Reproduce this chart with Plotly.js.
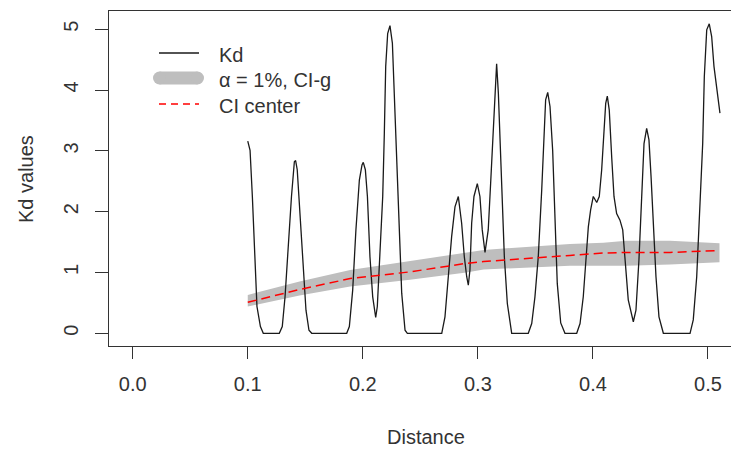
<!DOCTYPE html>
<html><head><meta charset="utf-8">
<script src="https://cdn.plot.ly/plotly-3.0.1.min.js"></script>
<style>html,body{margin:0;padding:0;background:#fff}</style>
</head><body><div id="chart" style="width:732px;height:449px"></div>
<script>
const kdDistance = [0.100,0.102,0.104,0.106,0.108,0.111,0.1135,0.1274,0.130,0.1324,0.1353,0.138,0.1405,0.1416,0.143,0.1454,0.1477,0.1506,0.1532,0.1556,
0.186,0.1883,0.1912,0.194,0.197,0.1993,0.2004,0.2022,0.204,0.2062,0.2086,0.2112,0.2126,0.215,0.2173,0.2187,0.2199,0.2216,0.223,0.2236,0.2257,0.2274,0.2295,0.2315,0.2338,0.2367,0.2387,
0.2686,0.2714,0.2743,0.2772,0.2801,0.283,0.2859,0.2882,0.2903,0.2917,0.2931,0.2946,0.2966,0.2995,0.3018,0.3038,0.3062,0.309,0.3111,0.3134,0.3149,0.3163,0.3178,0.3192,0.3212,0.323,0.3256,0.3294,
0.3438,0.3468,0.3496,0.3525,0.3555,0.3575,0.3589,0.3607,0.3627,0.365,0.367,0.369,0.372,0.3757,
0.3859,0.3888,0.3916,0.394,0.396,0.398,0.4003,0.4033,0.4055,0.4076,0.4096,0.4111,0.4125,0.4142,0.4163,0.4183,0.4206,0.4235,0.4259,0.4279,0.4307,0.4351,0.4374,0.44,0.4424,0.4444,0.4467,0.4487,0.4505,0.4525,0.4548,0.4574,0.4612,
0.4844,0.4872,0.4902,0.4931,0.4954,0.4968,0.4989,0.5011,0.5032,0.5052,0.5075,0.5104];
const kdValues = [3.16,3.01,2.25,1.26,0.44,0.11,0,0,0.11,0.60,1.53,2.25,2.82,2.84,2.69,1.97,1.15,0.38,0.05,0,
0,0.11,0.71,1.70,2.52,2.77,2.81,2.69,2.25,1.26,0.60,0.26,0.44,1.26,2.25,3.29,4.39,4.93,5.05,5.06,4.77,3.84,2.74,1.64,0.66,0.05,0,
0,0.27,0.93,1.59,2.08,2.25,1.81,1.26,0.93,0.79,1.04,1.81,2.25,2.46,2.25,1.70,1.33,1.70,2.47,3.29,3.95,4.43,3.95,3.13,2.19,1.26,0.49,0,
0,0.16,0.60,1.26,2.36,3.29,3.84,3.96,3.73,3.01,1.92,0.82,0.17,0,
0,0.16,0.60,1.15,1.75,2.03,2.25,2.15,2.25,2.69,3.40,3.78,3.90,3.67,2.90,2.25,1.97,1.86,1.70,1.15,0.55,0.19,0.38,1.21,2.30,3.12,3.37,3.18,2.58,1.75,0.93,0.27,0,
0,0.22,0.93,2.03,3.12,4.22,4.99,5.09,4.88,4.39,4.00,3.62];

const ciDistance = [0.100,0.145,0.189,0.241,0.290,0.305,0.380,0.409,0.429,0.467,0.510];
const ciLower    = [0.44,0.62,0.77,0.88,1.00,1.05,1.11,1.11,1.11,1.13,1.17];
const ciUpper    = [0.63,0.85,1.04,1.19,1.32,1.37,1.47,1.49,1.52,1.52,1.48];
const ciCenter   = [0.51,0.72,0.90,1.01,1.15,1.18,1.28,1.32,1.33,1.33,1.36];

const xTickVals = [0,0.1,0.2,0.3,0.4,0.5];
const xTickText = ["0.0","0.1","0.2","0.3","0.4","0.5"];
const yTickVals = [0,1,2,3,4,5];
const yTickText = ["0","1","2","3","4","5"];
const legendLabels = ["Kd","α = 1%, CI-g","CI center"];
const xTitle = "Distance";
const yTitle = "Kd values";

const FONT = "Liberation Sans, Arial, Helvetica, sans-serif";
const TXT = "#333333";
const W = 732, H = 449;
const M = {l:109, r:1, t:11, b:103};
const pw = W - M.l - M.r, ph = H - M.t - M.b;
const px = v => (v - M.l) / pw;
const py = v => (H - M.b - v) / ph;

const traces = [
  {x: ciDistance, y: ciLower, type:'scatter', mode:'lines', line:{width:0, color:'#bebebe'}, hoverinfo:'skip', showlegend:false},
  {x: ciDistance, y: ciUpper, type:'scatter', mode:'lines', fill:'tonexty', fillcolor:'#bebebe', line:{width:0, color:'#bebebe'}, showlegend:false},
  {x: kdDistance, y: kdValues, type:'scatter', mode:'lines', line:{width:1.3, color:'#1a1a1a'}, showlegend:false},
  {x: ciDistance, y: ciCenter, type:'scatter', mode:'lines', line:{width:1.5, color:'#ff0000', dash:'9px,5px'}, showlegend:false}
];

const shapes = [
  {type:'line', xref:'paper', yref:'paper', x0:px(159), x1:px(199), y0:py(53), y1:py(53), line:{color:'#1a1a1a', width:1.3}},
  {type:'line', xref:'paper', yref:'paper', x0:px(159.5), x1:px(197.5), y0:py(78), y1:py(78), line:{color:'#bebebe', width:13}},
  {type:'circle', xref:'paper', yref:'paper', x0:px(153), x1:px(166), y0:py(84.5), y1:py(71.5), fillcolor:'#bebebe', line:{width:0}},
  {type:'circle', xref:'paper', yref:'paper', x0:px(191), x1:px(204), y0:py(84.5), y1:py(71.5), fillcolor:'#bebebe', line:{width:0}},
  {type:'line', xref:'paper', yref:'paper', x0:px(159), x1:px(199), y0:py(104), y1:py(104), line:{color:'#ff0000', width:1.5, dash:'7px,5px'}}
];

const legendY = [55, 80, 106];
const annotations = legendLabels.map((t,i) => ({
  text:t, xref:'paper', yref:'paper', x:px(217), y:py(legendY[i]), xanchor:'left', yanchor:'middle',
  showarrow:false, font:{family:FONT, size:20, color:TXT}
}));
annotations.push({text:xTitle, xref:'paper', yref:'paper', x:px(426), y:py(437), xanchor:'center', yanchor:'middle', showarrow:false, font:{family:FONT, size:20, color:TXT}});
annotations.push({text:yTitle, xref:'paper', yref:'paper', x:px(26), y:py(179), xanchor:'center', yanchor:'middle', textangle:-90, showarrow:false, font:{family:FONT, size:20, color:TXT}});

const layout = {
  width:W, height:H, margin:M, paper_bgcolor:'#fff', plot_bgcolor:'#fff',
  showlegend:false,
  font:{family:FONT, size:20, color:TXT},
  xaxis:{range:[-0.0206, 0.52], tickvals:xTickVals, ticktext:xTickText, ticks:'outside', ticklen:12, tickwidth:1, tickcolor:'#333',
         ticklabelstandoff:8,
         showline:true, linecolor:'#333', linewidth:1, mirror:true, showgrid:false, zeroline:false, tickfont:{family:FONT, size:20, color:TXT}},
  yaxis:{range:[-0.209, 5.30], tickvals:yTickVals, ticktext:yTickText, tickangle:-90, ticks:'outside', ticklen:13, tickwidth:1, tickcolor:'#333',
         ticklabelstandoff:9,
         showline:true, linecolor:'#333', linewidth:1, mirror:false, showgrid:false, zeroline:false, tickfont:{family:FONT, size:20, color:TXT}},
  shapes:shapes, annotations:annotations
};

Plotly.newPlot('chart', traces, layout, {staticPlot:true, displayModeBar:false});
</script></body></html>
